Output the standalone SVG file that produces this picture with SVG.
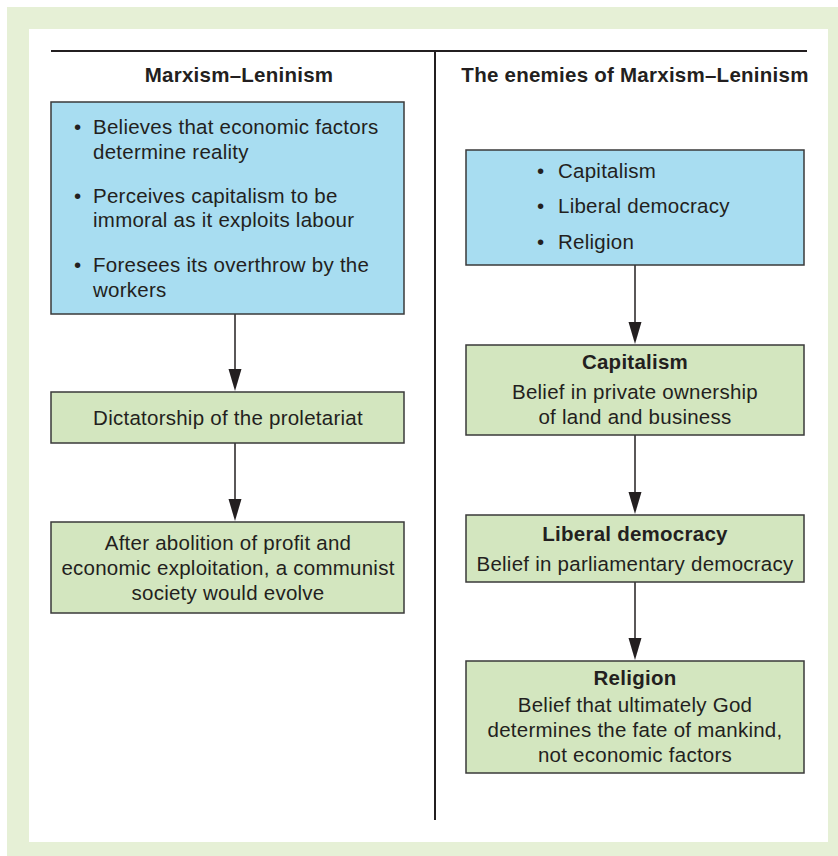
<svg xmlns="http://www.w3.org/2000/svg" width="838" height="856" viewBox="0 0 838 856">
  <style>
    .bg { fill: #e6f0d6; }
    .panel { fill: #ffffff; }
    .rule { stroke: #231f20; stroke-width: 2; fill: none; }
    .blue { fill: #a8ddf1; stroke: #3a3a3a; stroke-width: 1.5; }
    .green { fill: #d3e6bf; stroke: #3a3a3a; stroke-width: 1.5; }
    .conn { stroke: #231f20; stroke-width: 1.5; fill: none; }
    .head { fill: #231f20; }
    text { font-family: "Liberation Sans", Arial, sans-serif; font-size: 20.5px; letter-spacing: 0.25px; fill: #231f20; }
    .c { text-anchor: middle; }
    .b { font-weight: bold; }
  </style>

  <!-- frame -->
  <rect class="bg" x="7" y="7" width="831" height="849"/>
  <rect class="panel" x="29" y="29" width="799" height="813"/>

  <!-- column rules and headings -->
  <g id="headings">
    <line class="rule" x1="51" y1="51" x2="807" y2="51"/>
    <line class="rule" x1="435" y1="51" x2="435" y2="820"/>
    <text class="c b" x="239" y="82">Marxism–Leninism</text>
    <text class="c b" x="635" y="82">The enemies of Marxism–Leninism</text>
  </g>

  <!-- connectors -->
  <g id="connectors">
    <line class="conn" x1="235" y1="314" x2="235" y2="372"/>
    <path class="head" d="M228.5,369 L241.5,369 L235,391 Z"/>
    <line class="conn" x1="235" y1="443" x2="235" y2="502"/>
    <path class="head" d="M228.5,499 L241.5,499 L235,521 Z"/>

    <line class="conn" x1="635" y1="265" x2="635" y2="325"/>
    <path class="head" d="M628.5,322 L641.5,322 L635,344 Z"/>
    <line class="conn" x1="635" y1="435" x2="635" y2="495"/>
    <path class="head" d="M628.5,492 L641.5,492 L635,514 Z"/>
    <line class="conn" x1="635" y1="582" x2="635" y2="641"/>
    <path class="head" d="M628.5,638 L641.5,638 L635,660 Z"/>
  </g>

  <!-- left column -->
  <g id="ml-beliefs">
    <rect class="blue" x="51" y="102" width="353" height="212"/>
    <text x="74" y="134">•</text>
    <text x="93" y="134">Believes that economic factors</text>
    <text x="93" y="159">determine reality</text>
    <text x="74" y="203">•</text>
    <text x="93" y="203">Perceives capitalism to be</text>
    <text x="93" y="227">immoral as it exploits labour</text>
    <text x="74" y="272">•</text>
    <text x="93" y="272">Foresees its overthrow by the</text>
    <text x="93" y="297">workers</text>
  </g>

  <g id="ml-dictatorship">
    <rect class="green" x="51" y="392" width="353" height="51"/>
    <text class="c" x="228" y="425">Dictatorship of the proletariat</text>
  </g>

  <g id="ml-communism">
    <rect class="green" x="51" y="522" width="353" height="91"/>
    <text class="c" x="228" y="550">After abolition of profit and</text>
    <text class="c" x="228" y="575">economic exploitation, a communist</text>
    <text class="c" x="228" y="600">society would evolve</text>
  </g>

  <!-- right column -->
  <g id="enemies-list">
    <rect class="blue" x="466" y="150" width="338" height="115"/>
    <text x="537" y="178">•</text>
    <text x="558" y="178">Capitalism</text>
    <text x="537" y="213">•</text>
    <text x="558" y="213">Liberal democracy</text>
    <text x="537" y="249">•</text>
    <text x="558" y="249">Religion</text>
  </g>

  <g id="enemy-capitalism">
    <rect class="green" x="466" y="345" width="338" height="90"/>
    <text class="c b" x="635" y="369">Capitalism</text>
    <text class="c" x="635" y="399">Belief in private ownership</text>
    <text class="c" x="635" y="424">of land and business</text>
  </g>

  <g id="enemy-liberal-democracy">
    <rect class="green" x="466" y="515" width="338" height="67"/>
    <text class="c b" x="635" y="541">Liberal democracy</text>
    <text class="c" x="635" y="571">Belief in parliamentary democracy</text>
  </g>

  <g id="enemy-religion">
    <rect class="green" x="466" y="661" width="338" height="112"/>
    <text class="c b" x="635" y="685">Religion</text>
    <text class="c" x="635" y="712">Belief that ultimately God</text>
    <text class="c" x="635" y="737">determines the fate of mankind,</text>
    <text class="c" x="635" y="762">not economic factors</text>
  </g>
</svg>
